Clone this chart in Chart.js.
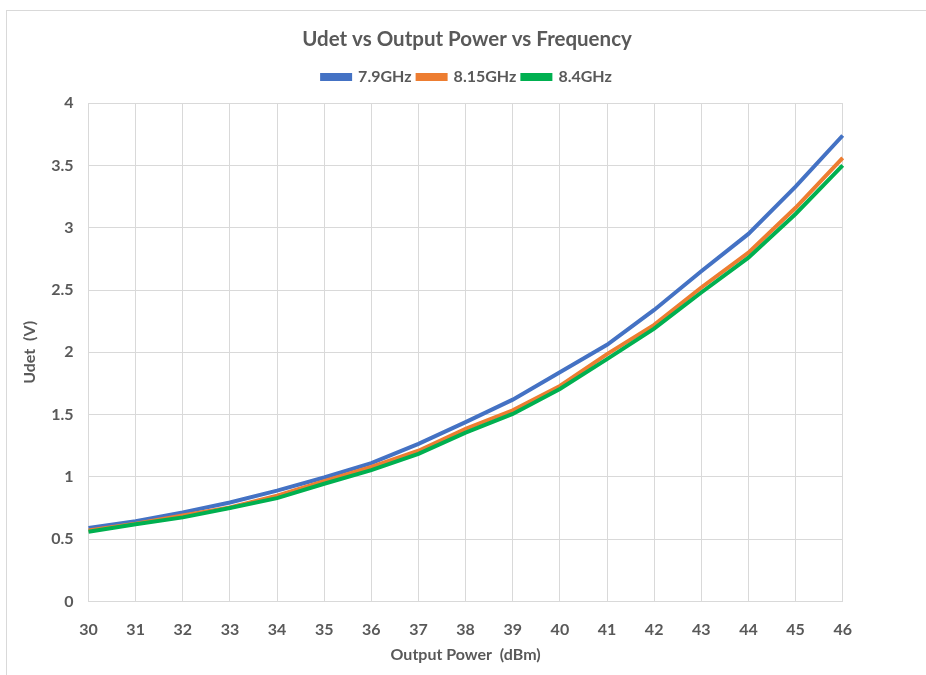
<!DOCTYPE html>
<html>
<head>
<meta charset="utf-8">
<script src="https://cdn.jsdelivr.net/npm/chart.js@4.4.1/dist/chart.umd.min.js"></script>
<style>
  html, body { margin: 0; padding: 0; background: #fff; overflow: hidden; width: 926px; height: 675px; }
  #frame { position: absolute; left: 6px; top: 10px; width: 940px; height: 700px; border: 1px solid #d9d9d9; box-sizing: border-box; }
  #wrap { position: absolute; left: 0; top: 0; width: 920px; height: 664px; }
</style>
</head>
<body>
<div id="frame"><div id="wrap"><canvas id="c"></canvas></div></div>
<script>
const categories = ["30","31","32","33","34","35","36","37","38","39","40","41","42","43","44","45","46"];
const seriesNames = ["7.9GHz", "8.15GHz", "8.4GHz"];
const udet79 = [0.59,0.645,0.715,0.795,0.89,0.995,1.11,1.265,1.44,1.62,1.84,2.06,2.34,2.65,2.95,3.33,3.74];
const udet815 = [0.57,0.625,0.69,0.755,0.85,0.965,1.08,1.21,1.385,1.535,1.73,1.985,2.22,2.52,2.80,3.16,3.56];
const udet84 = [0.56,0.62,0.675,0.75,0.83,0.945,1.055,1.185,1.355,1.505,1.705,1.945,2.19,2.48,2.76,3.11,3.50];
const colors = ["#4472C4", "#ED7D31", "#00B050"];
const FONT = "Lato, 'Open Sans', sans-serif";
const TXT = "#595959";
const GRID = "#d9d9d9";

const allSeries = [udet79, udet815, udet84];
const datasets = allSeries.map((d, i) => ({
  label: seriesNames[i],
  data: d,
  borderColor: colors[i],
  backgroundColor: colors[i],
  borderWidth: 4,
  pointRadius: 0,
  tension: 0,
  fill: false,
  order: 3 - i
}));

const hiddenAxis = (pos, size) => ({
  type: pos === "top" ? "category" : "linear",
  position: pos,
  display: true,
  grid: { display: false, drawTicks: false },
  border: { display: false },
  ticks: { display: false },
  afterFit: (s) => { if (pos === "top") s.height = size; else s.width = size; }
});

new Chart(document.getElementById("c"), {
  type: "line",
  data: { labels: categories, datasets },
  options: {
    responsive: true,
    maintainAspectRatio: false,
    animation: false,
    layout: { padding: { left: 12, right: 12, top: 0, bottom: 3.5 } },
    plugins: {
      tooltip: { enabled: false },
      title: {
        display: true,
        text: "Udet vs Output Power vs Frequency",
        color: TXT,
        font: { family: FONT, size: 20.5, weight: "bold" },
        padding: { top: 16.5, bottom: 11 }
      },
      legend: {
        display: true,
        position: "top",
        labels: {
          color: TXT,
          font: { family: FONT, size: 16, weight: "bold" },
          boxWidth: 28,
          boxHeight: 4,
          padding: 6,
          sort: (a, b) => a.datasetIndex - b.datasetIndex
        }
      }
    },
    scales: {
      x: {
        type: "category",
        offset: false,
        grid: { color: GRID, lineWidth: 1, drawTicks: false },
        border: { color: GRID, width: 1 },
        ticks: { color: TXT, font: { family: FONT, size: 16, weight: "bold" }, padding: 19, maxRotation: 0, autoSkip: false },
        title: { display: true, text: "Output Power  (dBm)", color: TXT, font: { family: FONT, size: 16, weight: "bold" }, padding: { top: 0, bottom: 7 } },
        afterFit: (s) => { s.height = 70; }
      },
      y: {
        min: 0,
        max: 4,
        grid: { color: GRID, lineWidth: 1, drawTicks: false },
        border: { color: GRID, width: 1 },
        ticks: { stepSize: 0.5, color: TXT, font: { family: FONT, size: 16, weight: "bold" }, padding: 15,
                 callback: (v) => String(+Number(v).toFixed(1)) },
        title: { display: true, text: "Udet  (V)", color: TXT, font: { family: FONT, size: 16, weight: "bold" }, padding: { top: 1.5, bottom: 0 } },
        afterFit: (s) => { s.width = 69.5; }
      },
      xTopSpacer: hiddenAxis("top", 8),
      yRightSpacer: hiddenAxis("right", 72.3)
    }
  }
});
</script>
</body>
</html>
